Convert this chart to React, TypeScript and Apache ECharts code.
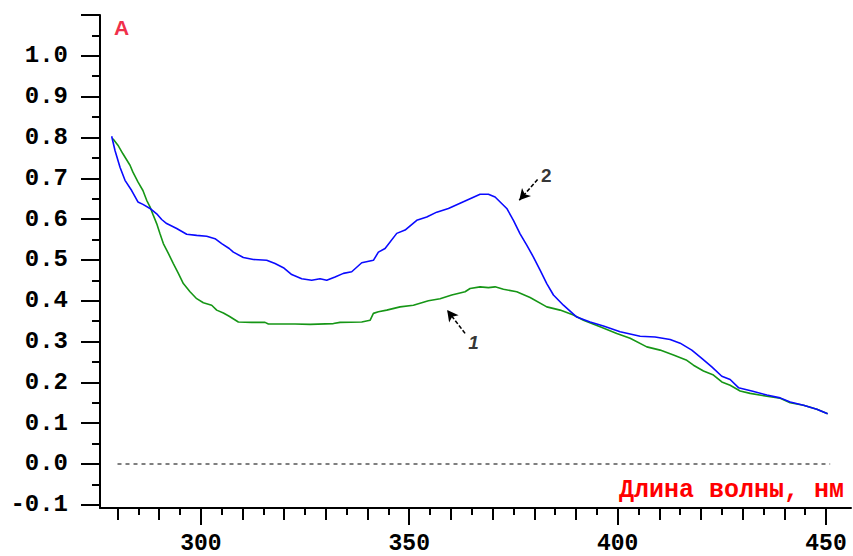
import React, { useEffect, useRef } from "react";
import * as echarts from "echarts";

// Curve 2 (blue)
const blueX = [278.6, 279.4, 280.6, 281.8, 283.4, 284.9, 286.1, 287.8, 289.4, 290.6, 291.8, 294.2, 296.6, 299.0, 301.4, 303.4, 305.0, 306.8, 307.8, 310.2, 312.6, 315.8, 317.8, 319.8, 321.8, 324.2, 326.6, 328.6, 330.2, 332.2, 334.2, 336.2, 338.6, 341.4, 342.6, 344.2, 347.0, 349.0, 351.8, 354.2, 356.6, 359.4, 362.2, 364.6, 367.0, 369.0, 370.6, 373.4, 375.0, 376.6, 378.2, 379.8, 381.4, 383.0, 384.6, 387.0, 390.2, 393.4, 396.6, 400.6, 405.4, 409.0, 412.6, 415.0, 417.8, 420.2, 422.6, 425.0, 427.0, 429.0, 432.2, 435.8, 439.0, 441.4, 444.6, 447.8, 450.4];
const blueY = [0.803, 0.768, 0.727, 0.695, 0.670, 0.642, 0.636, 0.626, 0.613, 0.599, 0.589, 0.577, 0.563, 0.560, 0.558, 0.552, 0.540, 0.528, 0.519, 0.506, 0.501, 0.499, 0.491, 0.481, 0.464, 0.454, 0.450, 0.454, 0.450, 0.458, 0.467, 0.471, 0.493, 0.499, 0.519, 0.528, 0.565, 0.573, 0.597, 0.605, 0.617, 0.626, 0.639, 0.650, 0.661, 0.661, 0.654, 0.626, 0.597, 0.564, 0.536, 0.507, 0.475, 0.442, 0.414, 0.389, 0.360, 0.348, 0.338, 0.324, 0.313, 0.311, 0.305, 0.296, 0.279, 0.259, 0.238, 0.215, 0.207, 0.187, 0.179, 0.169, 0.162, 0.152, 0.144, 0.134, 0.123];

// Curve 1 (green)
const greenX = [278.9, 280.1, 281.3, 283.0, 283.7, 284.9, 286.1, 287.0, 287.8, 288.6, 289.4, 290.2, 291.0, 292.2, 293.4, 294.6, 295.8, 297.4, 299.0, 300.6, 302.6, 303.8, 305.4, 306.8, 309.0, 312.2, 315.4, 316.2, 322.6, 326.2, 331.8, 333.4, 338.6, 340.6, 341.4, 342.6, 344.6, 347.8, 351.0, 354.6, 357.4, 360.2, 363.4, 364.6, 367.0, 369.0, 370.6, 372.6, 375.8, 379.0, 383.0, 386.2, 389.4, 391.8, 395.8, 399.8, 403.0, 407.0, 410.2, 413.4, 416.6, 418.2, 420.6, 423.0, 425.0, 427.0, 429.4, 431.8, 435.8, 439.0, 441.4, 444.6, 447.8, 450.4];
const greenY = [0.797, 0.781, 0.760, 0.732, 0.715, 0.691, 0.670, 0.646, 0.630, 0.609, 0.589, 0.564, 0.540, 0.516, 0.491, 0.467, 0.442, 0.422, 0.405, 0.395, 0.389, 0.377, 0.370, 0.362, 0.348, 0.347, 0.347, 0.343, 0.343, 0.342, 0.344, 0.347, 0.348, 0.352, 0.369, 0.373, 0.377, 0.385, 0.389, 0.400, 0.405, 0.414, 0.422, 0.430, 0.434, 0.432, 0.434, 0.428, 0.422, 0.408, 0.385, 0.377, 0.365, 0.352, 0.336, 0.320, 0.308, 0.287, 0.279, 0.267, 0.254, 0.242, 0.228, 0.218, 0.201, 0.193, 0.179, 0.173, 0.166, 0.161, 0.150, 0.144, 0.134, 0.123];

// Axis ticks
const yMajorTicks = [-0.1, 0, 0.1, 0.2, 0.3, 0.4, 0.5, 0.6, 0.7, 0.8, 0.9, 1.0, 1.1];
const yLabelValues = [-0.1, 0, 0.1, 0.2, 0.3, 0.4, 0.5, 0.6, 0.7, 0.8, 0.9, 1.0];
const yMinorTicks = [-0.05, 0.05, 0.15, 0.25, 0.35, 0.45, 0.55, 0.65, 0.75, 0.85, 0.95, 1.05];
const xMajorTicks = [300, 350, 400, 450];
const xMediumTicks = [280, 290, 310, 320, 330, 340, 360, 370, 380, 390, 410, 420, 430, 440];
const xMinorTicks = [285, 295, 305, 315, 325, 335, 345, 355, 365, 375, 385, 395, 405, 415, 425, 435, 445];

// Zero baseline
const zeroLineX = [280, 451];

// Annotation arrows: [startX, startY, tipX, tipY]
const arrow2 = [380.8, 0.697, 376.4, 0.646];
const arrow1 = [363.4, 0.320, 359.1, 0.377];
const annotX = [382.9, 365.4];
const annotY = [0.707, 0.297];
const annotText = ["2", "1"];
const annotItalic = [false, true];

const X_MIN = 275.8;
const X_MAX = 456;
const Y_MIN = -0.1078;
const Y_MAX = 1.1;

export default function App() {
  const ref = useRef<HTMLDivElement>(null);
  useEffect(() => {
    if (!ref.current) return;
    const chart = echarts.init(ref.current, null, { renderer: "svg" });
    const monoBold = { fontFamily: "Liberation Mono", fontWeight: "bold" as const };
    const xBase = {
      type: "value" as const,
      min: X_MIN,
      max: X_MAX,
      position: "bottom" as const,
      splitLine: { show: false },
    };
    const yBase = {
      type: "value" as const,
      min: Y_MIN,
      max: Y_MAX,
      position: "left" as const,
      splitLine: { show: false },
    };
    chart.setOption({
      animation: false,
      backgroundColor: "#fff",
      grid: { left: 100, right: 2, top: 15, bottom: 48, containLabel: false, outerBoundsMode: "none" },
      xAxis: [
        {
          ...xBase,
          axisLine: { onZero: false, lineStyle: { color: "#000", width: 2 } },
          axisTick: { customValues: xMajorTicks, length: 17, lineStyle: { color: "#000", width: 2 } },
          axisLabel: { customValues: xMajorTicks, margin: 29, lineHeight: 14, fontSize: 23, color: "#000", ...monoBold },
        },
        {
          ...xBase,
          axisLine: { show: false, onZero: false },
          axisTick: { customValues: xMediumTicks, length: 12, lineStyle: { color: "#000", width: 2 } },
          axisLabel: { show: false },
        },
        {
          ...xBase,
          axisLine: { show: false, onZero: false },
          axisTick: { customValues: xMinorTicks, length: 7, lineStyle: { color: "#000", width: 2 } },
          axisLabel: { show: false },
        },
      ],
      yAxis: [
        {
          ...yBase,
          axisLine: { onZero: false, lineStyle: { color: "#000", width: 2 } },
          axisTick: { customValues: yMajorTicks, length: 19, lineStyle: { color: "#000", width: 2 } },
          axisLabel: {
            customValues: yLabelValues,
            margin: 32,
            fontSize: 24,
            color: "#000",
            ...monoBold,
            formatter: (v: number) => v.toFixed(1),
          },
        },
        {
          ...yBase,
          axisLine: { show: false, onZero: false },
          axisTick: { customValues: yMinorTicks, length: 8, lineStyle: { color: "#000", width: 2 } },
          axisLabel: { show: false },
        },
      ],
      graphic: [
        {
          type: "text",
          left: 114,
          top: 17,
          style: { text: "A", fill: "#f0304a", font: "bold 21px 'Liberation Sans'" },
        },
        {
          type: "text",
          right: 9,
          top: 478,
          style: { text: "Длина волны, нм", fill: "#ff0000", font: "bold 25px 'Liberation Mono'" },
        },
      ],
      series: [
        {
          type: "line",
          data: zeroLineX.map((x) => [x, 0]),
          symbol: "none",
          lineStyle: { color: "#000", width: 1.2, type: [4, 4] },
          silent: true,
        },
        {
          name: "1",
          type: "line",
          data: greenX.map((x, i) => [x, greenY[i]]),
          symbol: "none",
          lineStyle: { color: "#169616", width: 1.6 },
        },
        {
          name: "2",
          type: "line",
          data: blueX.map((x, i) => [x, blueY[i]]),
          symbol: "none",
          lineStyle: { color: "#0a0aff", width: 1.6 },
          markLine: {
            silent: true,
            symbol: ["none", "arrow"],
            symbolSize: [9, 11],
            label: { show: false },
            lineStyle: { color: "#000", width: 1.6, type: [4, 2] },
            data: [
              [{ coord: [arrow2[0], arrow2[1]] }, { coord: [arrow2[2], arrow2[3]] }],
              [{ coord: [arrow1[0], arrow1[1]] }, { coord: [arrow1[2], arrow1[3]] }],
            ],
          },
        },
        {
          type: "scatter",
          data: annotX.map((x, i) => ({
            value: [x, annotY[i]],
            name: annotText[i],
            label: { fontStyle: annotItalic[i] ? "italic" : "normal" },
          })),
          symbolSize: 0,
          silent: true,
          label: {
            show: true,
            position: "inside",
            formatter: (p: any) => p.name,
            color: "#000",
            fontSize: 19,
            fontWeight: "bold",
            fontFamily: "Liberation Sans",
          },
        },
      ],
    });
    return () => chart.dispose();
  }, []);
  return <div ref={ref} style={{ width: 853, height: 556, position: "absolute", left: 0, top: 0 }} />;
}
